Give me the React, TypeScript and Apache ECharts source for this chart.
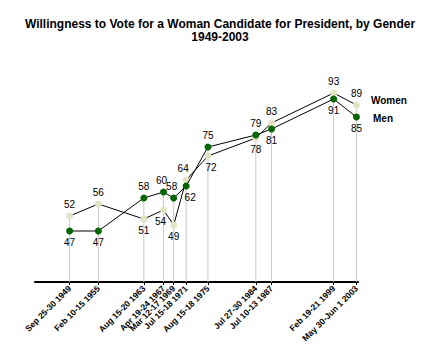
import React, { useEffect, useRef } from "react";
import * as echarts from "echarts";

const dateLabels = [
  "Sep 25-30 1949",
  "Feb 10-15 1955",
  "Aug 15-20 1963",
  "Apr 19-24 1967",
  "Mar 12-17 1969",
  "Jul 15-18 1971",
  "Aug 15-18 1975",
  "Jul 27-30 1984",
  "Jul 10-13 1987",
  "Feb 19-21 1999",
  "May 30-Jun 1 2003",
];
const surveyYears = [1949.73, 1955.11, 1963.62, 1967.3, 1969.2, 1971.54, 1975.62, 1984.57, 1987.52, 1999.14, 2003.41];
const women = [52, 56, 51, 54, 49, 64, 72, 78, 83, 93, 89];
const men = [47, 47, 58, 60, 58, 62, 75, 79, 81, 91, 85];

// label placement (style only)
const womenLabelPos = ["top", "top", "bottom", "bottom", "bottom", "top", "bottom", "bottom", "top", "top", "top"];
const womenLabelOffset = [[0, 0], [0, 0], [0, 0], [-3, 0], [0, 0], [-3, 0], [3, 0], [0, 0], [0, 0], [0, 0], [0, 0]];
const menLabelPos = ["bottom", "bottom", "top", "top", "top", "bottom", "top", "top", "bottom", "bottom", "bottom"];
const menLabelOffset = [[0, 0], [0, 0], [0, 0], [-2, 0], [-2, 0], [4, 0], [0, 0], [0, 0], [0, 0], [0, 0], [0, 0]];

const FONT = "'Liberation Sans', Arial, sans-serif";

export default function App() {
  const ref = useRef<HTMLDivElement>(null);
  useEffect(() => {
    if (!ref.current) return;
    const chart = echarts.init(ref.current, null, { renderer: "svg" });
    const Y_MIN = 30;

    const mk = (vals: number[], pos: string[], off: number[][]) =>
      vals.map((v, i) => ({
        value: [surveyYears[i], v],
        label: { position: pos[i], offset: off[i] },
      }));

    const labelFor = (v: number) => {
      let best = 0;
      let d = Infinity;
      surveyYears.forEach((x, i) => {
        const dd = Math.abs(x - v);
        if (dd < d) {
          d = dd;
          best = i;
        }
      });
      return dateLabels[best];
    };

    chart.setOption({
      animation: false,
      textStyle: { fontFamily: FONT },
      title: {
        text: "Willingness to Vote for a Woman Candidate for President, by Gender\n1949-2003",
        left: "center",
        top: 12,
        textStyle: { fontSize: 12, fontWeight: "bold", color: "#000", lineHeight: 13, fontFamily: FONT, align: "center" },
      },
      grid: { left: 35, right: 82, top: 72, bottom: 68 },
      xAxis: {
        type: "value",
        min: 1943.25,
        max: 2003.7,
        splitLine: { show: false },
        axisLine: { show: true, lineStyle: { color: "#000", width: 2 } },
        axisTick: { show: true, customValues: surveyYears, length: 3, lineStyle: { color: "#000" } },
        axisLabel: {
          customValues: surveyYears,
          rotate: 45,
          margin: 5,
          fontSize: 8.5,
          fontWeight: "bold",
          color: "#000",
          fontFamily: FONT,
          formatter: (v: number) => labelFor(v),
          hideOverlap: false,
        },
      },
      yAxis: {
        type: "value",
        min: Y_MIN,
        max: 100,
        show: false,
        splitLine: { show: false },
      },
      graphic: [
        { type: "text", left: 371, top: 95, style: { text: "Women", font: `bold 10px ${FONT}`, fill: "#000" } },
        { type: "text", left: 373, top: 113, style: { text: "Men", font: `bold 10px ${FONT}`, fill: "#000" } },
      ],
      series: [
        {
          type: "custom",
          silent: true,
          z: 1,
          renderItem: (_p: any, api: any) => {
            const x = api.value(0);
            const top = api.value(1);
            const p0 = api.coord([x, Y_MIN]);
            const p1 = api.coord([x, top]);
            return {
              type: "line",
              shape: { x1: p0[0], y1: p0[1], x2: p1[0], y2: p1[1] },
              style: { stroke: "#c8c8c8", lineWidth: 1 },
            };
          },
          data: surveyYears.map((x, i) => [x, Math.max(women[i], men[i])]),
        },
        {
          name: "Women",
          type: "line",
          z: 3,
          symbol: "circle",
          symbolSize: 7,
          lineStyle: { color: "#000", width: 1 },
          itemStyle: { color: "#e3e3c6", borderWidth: 0 },
          label: { show: true, fontSize: 10, color: "#000", distance: 3, fontFamily: FONT },
          data: mk(women, womenLabelPos, womenLabelOffset),
        },
        {
          name: "Men",
          type: "line",
          z: 4,
          symbol: "circle",
          symbolSize: 7,
          lineStyle: { color: "#000", width: 1 },
          itemStyle: { color: "#006600", borderWidth: 0 },
          label: { show: true, fontSize: 10, color: "#000", distance: 3, fontFamily: FONT },
          data: mk(men, menLabelPos, menLabelOffset),
        },
      ],
    });
    return () => chart.dispose();
  }, []);
  return (
    <div
      ref={ref}
      style={{ position: "fixed", left: 0, top: 0, width: 440, height: 350, background: "#fff" }}
    />
  );
}
